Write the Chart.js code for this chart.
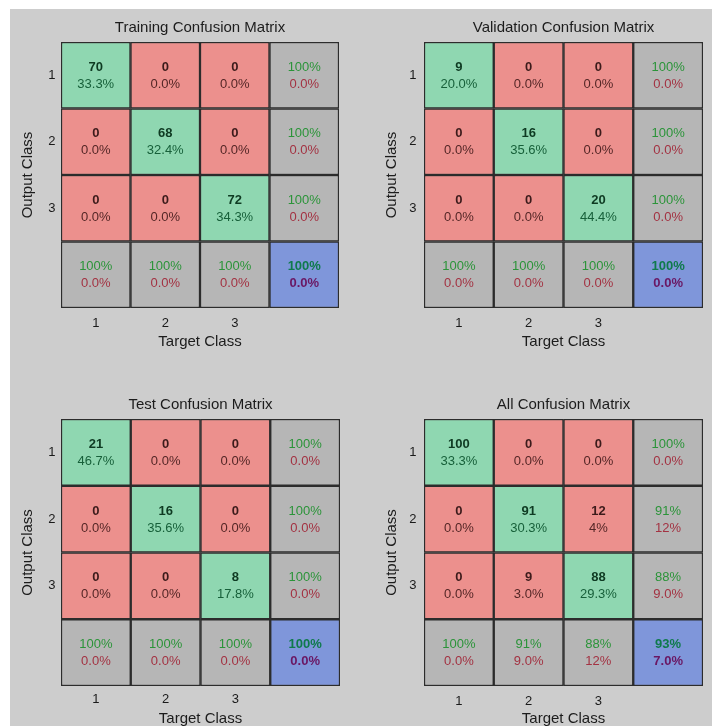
<!DOCTYPE html>
<html lang="en">
<head>
    <meta charset="UTF-8" />
    <title>Confusion Matrices</title>
    <script src="https://cdn.jsdelivr.net/npm/chart.js"></script>
    <style>
        body {
            margin: 0;
            background: #ffffff;
            width: 715px;
            height: 726px;
            overflow: hidden;
            position: relative;
        }
        #panel {
            position: absolute;
            left: 10px;
            top: 9px;
            width: 702px;
            height: 717px;
            background: #cdcdcd;
        }
        canvas {
            position: absolute;
        }
    </style>
</head>
<body>

<div id="panel"></div>
<canvas id="trainChart"></canvas>
<canvas id="valChart"></canvas>
<canvas id="testChart"></canvas>
<canvas id="allChart"></canvas>

<script>
    // class labels
    const targetClasses = ['1', '2', '3'];
    const outputClasses = ['1', '2', '3'];

    // Training
    const trainCounts = [[70, 0, 0], [0, 68, 0], [0, 0, 72]];
    const trainPcts = [['33.3%', '0.0%', '0.0%'], ['0.0%', '32.4%', '0.0%'], ['0.0%', '0.0%', '34.3%']];
    const trainRowAcc = [['100%', '0.0%'], ['100%', '0.0%'], ['100%', '0.0%']];
    const trainColAcc = [['100%', '0.0%'], ['100%', '0.0%'], ['100%', '0.0%']];
    const trainTotal = ['100%', '0.0%'];

    // Validation
    const valCounts = [[9, 0, 0], [0, 16, 0], [0, 0, 20]];
    const valPcts = [['20.0%', '0.0%', '0.0%'], ['0.0%', '35.6%', '0.0%'], ['0.0%', '0.0%', '44.4%']];
    const valRowAcc = [['100%', '0.0%'], ['100%', '0.0%'], ['100%', '0.0%']];
    const valColAcc = [['100%', '0.0%'], ['100%', '0.0%'], ['100%', '0.0%']];
    const valTotal = ['100%', '0.0%'];

    // Test
    const testCounts = [[21, 0, 0], [0, 16, 0], [0, 0, 8]];
    const testPcts = [['46.7%', '0.0%', '0.0%'], ['0.0%', '35.6%', '0.0%'], ['0.0%', '0.0%', '17.8%']];
    const testRowAcc = [['100%', '0.0%'], ['100%', '0.0%'], ['100%', '0.0%']];
    const testColAcc = [['100%', '0.0%'], ['100%', '0.0%'], ['100%', '0.0%']];
    const testTotal = ['100%', '0.0%'];

    // All
    const allCounts = [[100, 0, 0], [0, 91, 12], [0, 9, 88]];
    const allPcts = [['33.3%', '0.0%', '0.0%'], ['0.0%', '30.3%', '4%'], ['0.0%', '3.0%', '29.3%']];
    const allRowAcc = [['100%', '0.0%'], ['91%', '12%'], ['88%', '9.0%']];
    const allColAcc = [['100%', '0.0%'], ['91%', '9.0%'], ['88%', '12%']];
    const allTotal = ['93%', '7.0%'];

    const FONT = "'Liberation Sans', Arial, sans-serif";
    const colors = {
        diag: '#8fd7b1',
        off: '#ec908d',
        summary: '#b6b6b6',
        total: '#7f96da',
        border: '#2c2c2c'
    };

    function cellColor(r, c, n) {
        if (r === n && c === n) return colors.total;
        if (r === n || c === n) return colors.summary;
        return r === c ? colors.diag : colors.off;
    }

    const cellText = {
        id: 'cellText',
        afterDatasetsDraw(chart, args, opts) {
            const ctx = chart.ctx;
            const n = opts.counts.length;
            ctx.save();
            ctx.textAlign = 'center';
            ctx.textBaseline = 'middle';
            chart.data.datasets.forEach((ds, r) => {
                chart.getDatasetMeta(r).data.forEach((bar, c) => {
                    const cx = bar.x;
                    const cy = (bar.y + bar.base) / 2;
                    let top, bottom, topColor, bottomColor, topBold, bottomBold = false;
                    if (r < n && c < n) {
                        top = String(opts.counts[r][c]);
                        bottom = opts.pcts[r][c];
                        topBold = true;
                        topColor = r === c ? '#0e3a22' : '#3c1b1b';
                        bottomColor = r === c ? '#17603a' : '#542626';
                    } else if (r < n || c < n) {
                        const pair = r < n ? opts.rowAcc[r] : opts.colAcc[c];
                        top = pair[0];
                        bottom = pair[1];
                        topBold = false;
                        topColor = '#2b9439';
                        bottomColor = '#a33242';
                    } else {
                        top = opts.total[0];
                        bottom = opts.total[1];
                        topBold = bottomBold = true;
                        topColor = '#0f7a4c';
                        bottomColor = '#6a1763';
                    }
                    ctx.font = (topBold ? 'bold ' : '') + '13px ' + FONT;
                    ctx.fillStyle = topColor;
                    ctx.fillText(top, cx, cy - 8);
                    ctx.font = (bottomBold ? 'bold ' : '') + '13px ' + FONT;
                    ctx.fillStyle = bottomColor;
                    ctx.fillText(bottom, cx, cy + 9);
                });
            });
            ctx.restore();
        }
    };

    function renderMatrix(id, title, counts, pcts, rowAcc, colAcc, total, g) {
        const canvas = document.getElementById(id);
        canvas.width = g.w;
        canvas.height = g.h;
        canvas.style.left = g.left + 'px';
        canvas.style.top = g.top + 'px';

        const n = outputClasses.length;
        const datasets = [];
        for (let r = 0; r <= n; r++) {
            datasets.push({
                data: targetClasses.concat(['']).map(() => 1),
                backgroundColor: targetClasses.concat(['']).map((_, c) => cellColor(r, c, n)),
                borderColor: colors.border,
                borderWidth: 1.5,
                borderSkipped: false,
                barPercentage: 1,
                categoryPercentage: 1
            });
        }

        new Chart(canvas.getContext('2d'), {
            type: 'bar',
            data: {
                labels: targetClasses.concat(['']),
                datasets: datasets
            },
            options: {
                responsive: false,
                animation: false,
                events: [],
                layout: { padding: { left: 0, right: g.padRight, top: 0, bottom: 0 } },
                plugins: {
                    legend: { display: false },
                    tooltip: { enabled: false },
                    title: {
                        display: true,
                        text: title,
                        fullSize: false,
                        color: '#1c1c1c',
                        font: { family: FONT, size: 15, weight: 'normal' },
                        padding: { top: g.titleTop, bottom: g.titleBottom }
                    },
                    cellText: { counts, pcts, rowAcc, colAcc, total }
                },
                scales: {
                    x: {
                        stacked: true,
                        grid: { display: false, drawTicks: false },
                        border: { display: false },
                        ticks: {
                            color: '#1a1a1a',
                            font: { family: FONT, size: 13 },
                            padding: g.xTickPad
                        },
                        title: {
                            display: true,
                            text: 'Target Class',
                            color: '#1c1c1c',
                            font: { family: FONT, size: 15 },
                            padding: { top: 0, bottom: g.xTitlePad }
                        },
                        afterFit: (s) => { s.height = g.xHeight; }
                    },
                    y: {
                        stacked: true,
                        reverse: true,
                        min: 0,
                        max: n + 1,
                        grid: { display: false, drawTicks: false },
                        border: { display: false },
                        afterBuildTicks: (s) => {
                            s.ticks = outputClasses.map((_, i) => ({ value: i + 0.5 }));
                        },
                        ticks: {
                            autoSkip: false,
                            color: '#1a1a1a',
                            font: { family: FONT, size: 13 },
                            padding: g.yTickPad,
                            callback: (v, i) => outputClasses[i]
                        },
                        title: {
                            display: true,
                            text: 'Output Class',
                            color: '#1c1c1c',
                            font: { family: FONT, size: 15 },
                            padding: { top: g.yTitlePad, bottom: 0 }
                        },
                        afterFit: (s) => { s.width = g.yWidth; }
                    }
                }
            },
            plugins: [cellText]
        });
    }

    renderMatrix('trainChart', 'Training Confusion Matrix', trainCounts, trainPcts, trainRowAcc, trainColAcc, trainTotal,
        { left: 10, top: 9, w: 350, h: 355, padRight: 21, yWidth: 51, titleTop: 10, titleBottom: 5,
          xHeight: 56, xTickPad: 8, xTitlePad: 13, yTickPad: 5.5, yTitlePad: 9 });
    renderMatrix('valChart', 'Validation Confusion Matrix', valCounts, valPcts, valRowAcc, valColAcc, valTotal,
        { left: 362, top: 9, w: 350, h: 355, padRight: 9, yWidth: 62, titleTop: 10, titleBottom: 5,
          xHeight: 56, xTickPad: 8, xTitlePad: 13, yTickPad: 7.5, yTitlePad: 21 });
    renderMatrix('testChart', 'Test Confusion Matrix', testCounts, testPcts, testRowAcc, testColAcc, testTotal,
        { left: 10, top: 364, w: 350, h: 362, padRight: 20, yWidth: 51, titleTop: 32, titleBottom: 5,
          xHeight: 40, xTickPad: 6, xTitlePad: -2, yTickPad: 5.5, yTitlePad: 9 });
    renderMatrix('allChart', 'All Confusion Matrix', allCounts, allPcts, allRowAcc, allColAcc, allTotal,
        { left: 362, top: 364, w: 350, h: 362, padRight: 9, yWidth: 62, titleTop: 32, titleBottom: 5,
          xHeight: 40, xTickPad: 8, xTitlePad: -2, yTickPad: 7.5, yTitlePad: 21 });
</script>

</body>
</html>
